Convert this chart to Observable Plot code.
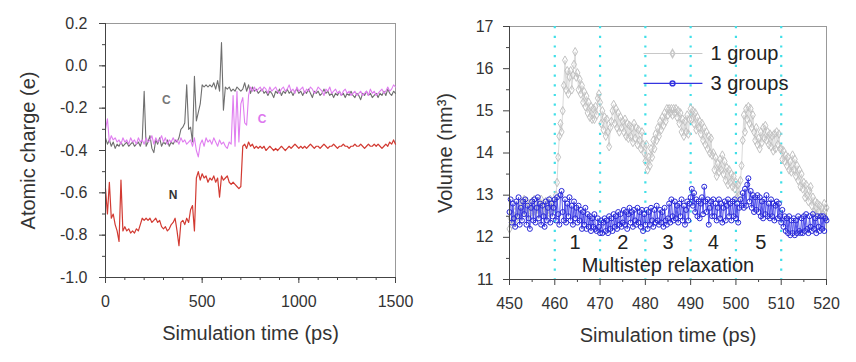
<!DOCTYPE html>
<html><head><meta charset="utf-8">
<script src="https://cdn.jsdelivr.net/npm/d3@7"></script>
<script src="https://cdn.jsdelivr.net/npm/@observablehq/plot@0.6"></script>
<style>
body{margin:0;background:#fff;}
#wrap{display:flex;width:856px;height:362px;}
</style></head><body><div id="wrap"></div>
<script>
// ---------- left panel: atomic charge ----------
const chargeTimes = d3.range(0, 1501, 10);
const chargeC1 = [
-0.34,-0.37,-0.35,-0.38,-0.36,-0.39,-0.37,-0.38,-0.36,-0.38,
-0.37,-0.36,-0.38,-0.37,-0.36,-0.38,-0.37,-0.36,-0.38,-0.35,
-0.12,-0.38,-0.36,-0.33,-0.39,-0.41,-0.35,-0.37,-0.34,-0.38,
-0.36,-0.37,-0.35,-0.38,-0.36,-0.37,-0.35,-0.36,-0.34,-0.30,
-0.29,-0.27,-0.09,-0.30,-0.29,-0.36,-0.05,-0.26,-0.22,-0.18,
-0.09,-0.10,-0.09,-0.10,-0.09,-0.10,-0.08,-0.11,-0.07,-0.12,
0.11,-0.21,-0.10,-0.11,-0.10,-0.12,-0.11,-0.12,-0.10,-0.11,
-0.12,-0.11,-0.08,-0.12,-0.09,-0.13,-0.10,-0.12,-0.11,-0.13,
-0.12,-0.11,-0.13,-0.12,-0.14,-0.12,-0.13,-0.15,-0.12,-0.13,
-0.11,-0.14,-0.12,-0.13,-0.11,-0.13,-0.12,-0.14,-0.12,-0.11,
-0.13,-0.12,-0.14,-0.12,-0.13,-0.11,-0.13,-0.15,-0.12,-0.13,
-0.12,-0.14,-0.13,-0.11,-0.13,-0.12,-0.14,-0.13,-0.15,-0.13,
-0.14,-0.12,-0.14,-0.13,-0.15,-0.13,-0.14,-0.12,-0.14,-0.15,
-0.13,-0.14,-0.16,-0.13,-0.14,-0.12,-0.14,-0.13,-0.15,-0.14,
-0.13,-0.15,-0.13,-0.14,-0.12,-0.14,-0.11,-0.13,-0.14,-0.12,
-0.13];
const chargeC2 = [
-0.30,-0.25,-0.36,-0.33,-0.35,-0.34,-0.36,-0.35,-0.37,-0.34,
-0.36,-0.35,-0.37,-0.34,-0.36,-0.35,-0.37,-0.34,-0.36,-0.35,
-0.37,-0.34,-0.36,-0.35,-0.33,-0.37,-0.34,-0.36,-0.35,-0.33,
-0.36,-0.34,-0.37,-0.35,-0.36,-0.34,-0.36,-0.35,-0.37,-0.34,
-0.36,-0.35,-0.37,-0.36,-0.35,-0.38,-0.34,-0.40,-0.43,-0.37,
-0.35,-0.38,-0.34,-0.36,-0.35,-0.37,-0.34,-0.36,-0.38,-0.35,
-0.37,-0.36,-0.38,-0.39,-0.36,-0.37,-0.14,-0.38,-0.12,-0.36,
-0.18,-0.15,-0.27,-0.28,-0.14,-0.10,-0.12,-0.10,-0.12,-0.11,
-0.10,-0.12,-0.10,-0.11,-0.13,-0.10,-0.12,-0.11,-0.10,-0.12,
-0.13,-0.11,-0.10,-0.12,-0.11,-0.09,-0.12,-0.11,-0.13,-0.10,
-0.12,-0.11,-0.10,-0.13,-0.11,-0.12,-0.10,-0.11,-0.13,-0.12,
-0.10,-0.11,-0.12,-0.14,-0.11,-0.12,-0.10,-0.13,-0.12,-0.11,
-0.13,-0.12,-0.14,-0.12,-0.11,-0.13,-0.12,-0.14,-0.13,-0.12,
-0.14,-0.13,-0.12,-0.14,-0.13,-0.12,-0.14,-0.11,-0.13,-0.12,
-0.14,-0.13,-0.12,-0.11,-0.13,-0.12,-0.10,-0.12,-0.11,-0.09,
-0.10];
const chargeN = [
-0.58,-0.70,-0.55,-0.72,-0.70,-0.75,-0.78,-0.83,-0.54,-0.78,
-0.76,-0.78,-0.77,-0.79,-0.78,-0.79,-0.77,-0.78,-0.75,-0.72,
-0.73,-0.72,-0.73,-0.72,-0.74,-0.73,-0.72,-0.74,-0.73,-0.76,
-0.77,-0.76,-0.78,-0.77,-0.75,-0.74,-0.72,-0.78,-0.85,-0.74,
-0.73,-0.75,-0.72,-0.74,-0.68,-0.66,-0.78,-0.53,-0.50,-0.54,
-0.51,-0.53,-0.52,-0.55,-0.53,-0.54,-0.52,-0.55,-0.53,-0.62,
-0.52,-0.54,-0.53,-0.52,-0.55,-0.56,-0.55,-0.56,-0.57,-0.58,
-0.57,-0.38,-0.37,-0.39,-0.36,-0.38,-0.37,-0.39,-0.38,-0.39,
-0.38,-0.39,-0.38,-0.40,-0.39,-0.38,-0.39,-0.40,-0.39,-0.40,
-0.39,-0.38,-0.39,-0.40,-0.39,-0.38,-0.39,-0.38,-0.37,-0.38,
-0.39,-0.38,-0.39,-0.38,-0.39,-0.38,-0.37,-0.38,-0.39,-0.38,
-0.38,-0.39,-0.38,-0.37,-0.38,-0.39,-0.38,-0.38,-0.37,-0.38,
-0.39,-0.38,-0.38,-0.37,-0.38,-0.38,-0.39,-0.38,-0.38,-0.37,
-0.38,-0.38,-0.37,-0.38,-0.39,-0.38,-0.37,-0.38,-0.38,-0.37,
-0.38,-0.37,-0.38,-0.39,-0.38,-0.37,-0.38,-0.36,-0.37,-0.35,
-0.37];
const chargeXTicks = [0, 500, 1000, 1500];
const chargeYTicks = [-1.0, -0.8, -0.6, -0.4, -0.2, 0.0, 0.2];
const atomLabels = [
  {t: 314, v: -0.16, text: "C", color: "#777777"},
  {t: 810, v: -0.25, text: "C", color: "#dd77ee"},
  {t: 350, v: -0.61, text: "N", color: "#333333"}
];

// ---------- right panel: volume ----------
const volTimes = d3.range(450, 520.001, 0.25);
const vol1group = [
12.2,12.45,12.3,12.55,12.35,12.6,12.45,12.7,12.5,12.8,12.6,12.85,12.65,12.9,12.6,12.85,12.7,12.55,12.8,12.6,
12.85,12.6,12.9,12.65,12.8,12.55,12.85,12.6,12.9,12.65,12.8,12.6,12.85,12.55,12.8,12.65,12.9,12.6,12.8,12.7,
12.8,13.0,13.3,13.9,14.4,14.7,14.5,15.0,15.6,16.2,15.5,15.95,15.4,15.8,15.95,15.5,15.85,16.1,16.4,15.8,
15.9,15.5,15.75,15.4,15.6,15.2,15.45,15.1,15.35,14.95,15.2,14.85,15.1,14.8,15.05,14.8,15.1,14.9,15.3,15.4,
15.2,14.7,15.0,14.55,14.85,14.4,14.8,14.5,14.15,14.6,14.75,15.0,15.15,14.7,15.05,14.6,14.95,14.5,14.85,14.6,
14.75,14.5,14.8,14.4,14.7,14.35,14.65,14.4,14.6,14.25,14.7,14.35,14.6,14.2,14.55,14.3,14.1,14.5,14.2,14.0,
13.8,14.2,13.6,13.9,13.7,14.1,13.9,14.3,14.1,14.45,14.3,14.6,14.4,14.75,14.55,14.85,14.65,14.95,14.75,15.05,
14.9,15.05,14.95,15.05,14.9,15.05,14.95,15.05,14.85,15.0,14.7,14.95,14.5,14.8,14.4,14.75,14.5,14.9,14.45,14.8,
15.05,14.8,15.0,14.7,14.95,14.55,14.85,14.6,14.75,14.45,14.7,14.3,14.6,14.2,14.5,14.1,14.4,14.0,14.35,13.95,
14.0,13.6,13.9,13.45,13.75,13.55,13.85,13.6,13.95,13.5,13.8,13.35,13.65,13.25,13.6,13.3,13.5,13.2,13.45,13.15,
13.3,12.95,13.25,13.0,13.35,13.7,14.3,14.9,14.5,15.05,14.8,15.1,14.7,15.05,14.6,14.9,14.5,14.3,14.6,14.2,
14.35,14.1,14.5,14.25,14.6,14.35,14.65,14.3,14.5,14.2,14.45,14.15,14.4,14.05,14.45,14.1,14.5,14.2,14.45,14.1,
14.1,13.85,14.05,13.8,13.95,13.7,13.9,13.6,13.8,13.55,13.95,13.6,13.85,13.45,13.7,13.35,13.6,13.2,13.5,13.15,
13.3,12.95,13.25,13.0,12.85,13.1,13.2,12.75,12.95,12.6,12.85,12.55,12.8,12.6,12.75,12.5,12.7,12.55,12.8,12.65,
12.7];
const vol3groups = [
12.6,12.9,12.35,12.8,12.45,12.25,12.85,12.5,12.95,12.3,12.7,12.4,12.85,12.55,12.9,12.3,12.75,12.45,12.2,12.7,
12.85,12.4,12.9,12.35,12.7,12.95,12.45,12.8,12.3,12.75,12.5,12.25,12.85,12.4,12.7,12.9,12.35,12.8,12.5,12.7,
12.9,12.4,12.95,12.55,12.3,13.0,13.1,12.6,12.4,12.9,12.35,12.8,12.5,12.95,12.4,12.75,12.3,12.85,12.45,12.7,
12.35,12.75,12.4,12.65,12.2,12.6,12.3,12.7,12.2,12.55,12.25,12.5,12.15,12.45,12.25,12.55,12.2,12.15,12.45,12.25,
12.1,12.4,12.1,12.35,12.45,12.15,12.4,12.1,12.5,12.2,12.45,12.15,12.55,12.25,12.5,12.2,12.6,12.3,12.55,12.25,
12.35,12.65,12.3,12.6,12.2,12.55,12.7,12.35,12.6,12.25,12.65,12.4,12.3,12.7,12.35,12.6,12.25,12.65,12.15,12.55,
12.3,12.65,12.2,12.6,12.3,12.7,12.4,12.25,12.65,12.35,12.75,12.4,12.3,12.65,12.35,12.6,12.25,12.7,12.4,12.3,
12.45,12.8,12.35,12.9,12.5,12.4,12.85,12.45,12.75,12.35,12.8,12.5,12.9,12.4,12.75,12.3,12.65,12.85,12.4,12.8,
12.95,13.15,12.75,13.05,12.6,12.9,12.5,12.85,12.45,12.8,12.95,12.55,13.2,12.85,12.6,12.9,12.3,12.7,12.85,12.5,
12.9,12.5,12.8,12.4,12.7,12.9,12.45,12.8,12.35,12.7,12.85,12.4,12.75,12.9,12.5,12.8,12.4,12.85,12.5,12.9,
12.45,12.8,12.35,12.7,12.9,12.75,13.05,12.7,13.15,12.75,13.25,13.4,12.85,13.1,12.7,13.0,12.6,12.95,12.65,13.0,
12.6,12.95,12.5,12.85,12.45,12.9,12.55,13.0,12.5,12.8,12.45,12.9,12.5,12.8,12.4,12.75,12.85,12.45,12.8,12.5,
12.35,12.65,12.25,12.5,12.15,12.45,12.1,12.5,12.05,12.4,12.1,12.45,12.05,12.4,12.1,12.5,12.15,12.1,12.45,12.1,
12.5,12.15,12.55,12.2,12.1,12.5,12.25,12.15,12.55,12.2,12.45,12.1,12.5,12.25,12.15,12.5,12.2,12.5,12.15,12.45,
12.4];
const volXTicks = [450, 460, 470, 480, 490, 500, 510, 520];
const volYTicks = [11, 12, 13, 14, 15, 16, 17];
const relaxLines = [460, 470, 480, 490, 500, 510];
const stepLabels = ["1", "2", "3", "4", "5"];
const stepTimes = [464.5, 475, 485, 495, 505.5];
const seriesNames = ["1 group", "3 groups"];

const FONT = "'Liberation Sans', Arial, sans-serif";
const baseStyle = {fontFamily: FONT, fontSize: "16px", color: "#333", background: "#fff", overflow: "visible"};

// left data table
const mk = (arr, s) => arr.map((v, i) => ({t: chargeTimes[i], v, s}));
const c1 = mk(chargeC1, "C1"), c2 = mk(chargeC2, "C2"), nn = mk(chargeN, "N");

const left = Plot.plot({
  width: 428, height: 362,
  marginLeft: 105, marginRight: 33, marginTop: 23, marginBottom: 85,
  style: baseStyle,
  x: {domain: [0, 1500]},
  y: {domain: [-1.0, 0.2]},
  marks: [
    Plot.frame({stroke: "#999"}),
    Plot.line(c1, {x: "t", y: "v", stroke: "#6f6f6f", strokeWidth: 1.1}),
    Plot.line(c2, {x: "t", y: "v", stroke: "#e07ef0", strokeWidth: 1.1}),
    Plot.line(nn, {x: "t", y: "v", stroke: "#d23a32", strokeWidth: 1.2}),
    Plot.text(atomLabels, {x: "t", y: "v", text: "text", fill: "color", fontSize: 12, fontWeight: "bold"}),
    Plot.axisX({ticks: chargeXTicks, tickSize: 6, tickPadding: 12, fontSize: 16, tickFormat: d3.format("d"), label: null, stroke: "#444"}),
    Plot.axisX({ticks: d3.range(0, 1501, 100), tickSize: 3, text: null, label: null, stroke: "#444"}),
    Plot.axisY({ticks: chargeYTicks, tickSize: 6, tickPadding: 12, fontSize: 16, tickFormat: d => d3.format(".1f")(d).replace("−", "-"), label: null, stroke: "#444"}),
    Plot.axisY({ticks: d3.range(-1.0, 0.21, 0.1), tickSize: 3, text: null, label: null, stroke: "#444"}),
    Plot.ruleX([0], {stroke: "#444"}),
    Plot.ruleY([-1.0], {stroke: "#444"}),
    Plot.text(["Simulation time (ps)"], {frameAnchor: "bottom", dy: 56, fontSize: 20, lineAnchor: "middle", textAnchor: "middle", fill: "#333"}),
    Plot.text(["Atomic charge (e)"], {frameAnchor: "left", dx: -77, rotate: -90, fontSize: 20, lineAnchor: "middle", textAnchor: "middle", fill: "#333"})
  ]
});

// right data table
const g1 = vol1group.map((v, i) => ({t: volTimes[i], v}));
const g3 = vol3groups.map((v, i) => ({t: volTimes[i], v}));
const steps = stepLabels.map((s, i) => ({t: stepTimes[i], s}));
const legend = [
  {x1: 479.6, x2: 492.6, xm: 486, xt: 494.4, y: 16.36, name: seriesNames[0], stroke: "#c8c8c8", sym: "diamond"},
  {x1: 479.6, x2: 492.6, xm: 486, xt: 494.4, y: 15.65, name: seriesNames[1], stroke: "#3535e0", sym: "circle"}
];

const right = Plot.plot({
  width: 428, height: 362,
  marginLeft: 81, marginRight: 30, marginTop: 26, marginBottom: 83,
  style: baseStyle,
  x: {domain: [450, 520]},
  y: {domain: [11, 17]},
  marks: [
    Plot.frame({stroke: "#999"}),
    Plot.ruleX(relaxLines, {stroke: "#40dfe8", strokeWidth: 2.2, strokeDasharray: "2.2,7.5"}),
    Plot.line(g1, {x: "t", y: "v", stroke: "#dadada", strokeWidth: 1}),
    Plot.dot(g1, {x: "t", y: "v", stroke: "#c2c2c2", symbol: "diamond", r: 2.6, strokeWidth: 1}),
    Plot.line(g3, {x: "t", y: "v", stroke: "#5050ea", strokeWidth: 1}),
    Plot.dot(g3, {x: "t", y: "v", stroke: "#2828d8", r: 2.5, strokeWidth: 1}),
    Plot.text(steps, {x: "t", y: 11.87, text: "s", fontSize: 20, fill: "#222"}),
    Plot.text(["Multistep relaxation"], {x: 485, y: 11.32, fontSize: 20, fill: "#222"}),
    Plot.link(legend, {x1: "x1", x2: "x2", y1: "y", y2: "y", stroke: "stroke", strokeWidth: 1.2}),
    Plot.dot(legend, {x: "xm", y: "y", stroke: "stroke", symbol: "sym", r: 2.4}),
    Plot.text(legend, {x: "xt", y: "y", text: "name", textAnchor: "start", fontSize: 20, fill: "#222"}),
    Plot.axisX({ticks: volXTicks, tickSize: 6, tickPadding: 12, fontSize: 16, tickFormat: d3.format("d"), label: null, stroke: "#444"}),
    Plot.axisX({ticks: d3.range(455, 520, 10), tickSize: 3, text: null, label: null, stroke: "#444"}),
    Plot.axisY({ticks: volYTicks, tickSize: 6, tickPadding: 10, fontSize: 16, tickFormat: d3.format("d"), label: null, stroke: "#444"}),
    Plot.axisY({ticks: d3.range(11.5, 17, 1), tickSize: 3, text: null, label: null, stroke: "#444"}),
    Plot.ruleX([450], {stroke: "#444"}),
    Plot.ruleY([11], {stroke: "#444"}),
    Plot.text(["Simulation time (ps)"], {frameAnchor: "bottom", dy: 56, fontSize: 20, lineAnchor: "middle", textAnchor: "middle", fill: "#333"}),
    Plot.text(["Volume (nm³)"], {frameAnchor: "left", dx: -64, rotate: -90, fontSize: 20, lineAnchor: "middle", textAnchor: "middle", fill: "#333"})
  ]
});

const wrap = document.getElementById("wrap");
wrap.appendChild(left);
wrap.appendChild(right);
</script>
</body></html>
